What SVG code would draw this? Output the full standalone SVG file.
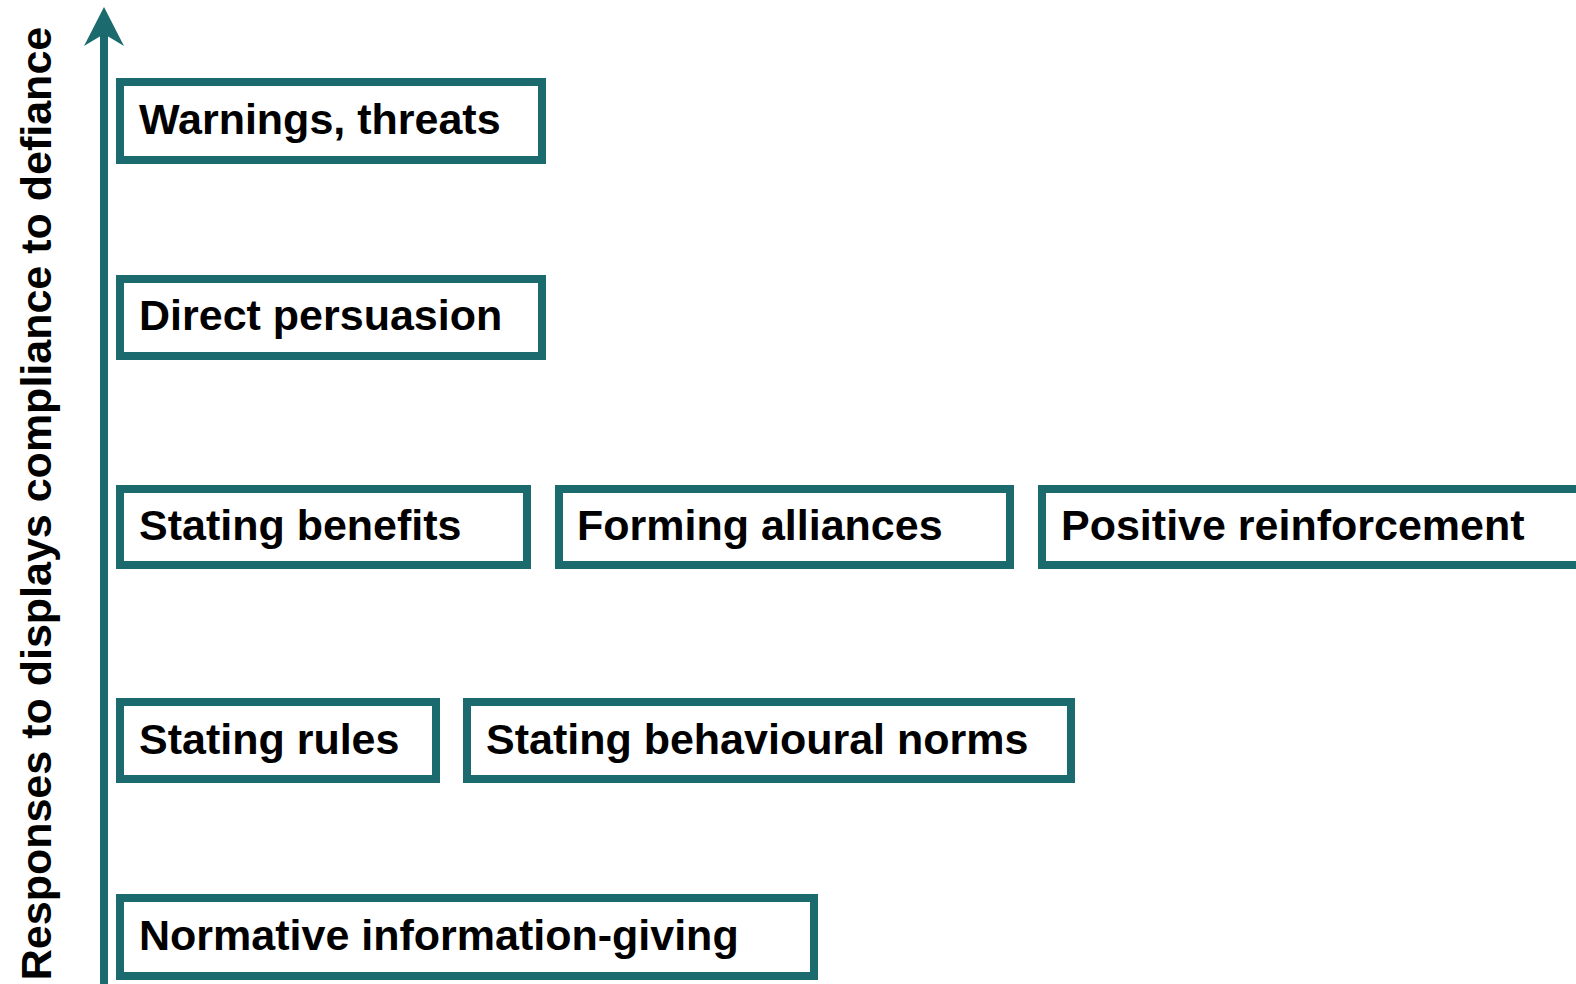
<svg xmlns="http://www.w3.org/2000/svg" width="1576" height="984" viewBox="0 0 1576 984">
<style>
.box{fill:#fff;stroke:#1b6b6e;stroke-width:8}
.lbl{font-family:"Liberation Sans",Arial,sans-serif;font-weight:bold;font-size:43px;fill:#000}
</style>
<rect width="1576" height="984" fill="#fff"/>
<g id="axis">
<line x1="104" y1="30" x2="104" y2="984" stroke="#1b6b6e" stroke-width="8"/>
<polygon points="104,7 124,46 104,34 84,46" fill="#1b6b6e"/>
<text class="lbl" transform="translate(51,503.5) rotate(-90)" text-anchor="middle">Responses to displays compliance to defiance</text>
</g>
<g id="warnings"><rect class="box" x="120" y="82" width="422" height="78"/><text class="lbl" x="139" y="134">Warnings, threats</text></g>
<g id="direct"><rect class="box" x="120" y="279" width="422" height="77"/><text class="lbl" x="139" y="330">Direct persuasion</text></g>
<g id="benefits"><rect class="box" x="120" y="489" width="407" height="76"/><text class="lbl" x="139" y="540">Stating benefits</text></g>
<g id="alliances"><rect class="box" x="559" y="489" width="451" height="76"/><text class="lbl" x="577" y="540">Forming alliances</text></g>
<g id="positive"><rect class="box" x="1042" y="489" width="600" height="76"/><text class="lbl" x="1061" y="540">Positive reinforcement</text></g>
<g id="rules"><rect class="box" x="120" y="702" width="316" height="77"/><text class="lbl" x="139" y="754">Stating rules</text></g>
<g id="norms"><rect class="box" x="467" y="702" width="604" height="77"/><text class="lbl" x="486" y="754">Stating behavioural norms</text></g>
<g id="normative"><rect class="box" x="120" y="898" width="694" height="78"/><text class="lbl" x="139" y="950">Normative information-giving</text></g>
<g id="connectors"></g>
</svg>
